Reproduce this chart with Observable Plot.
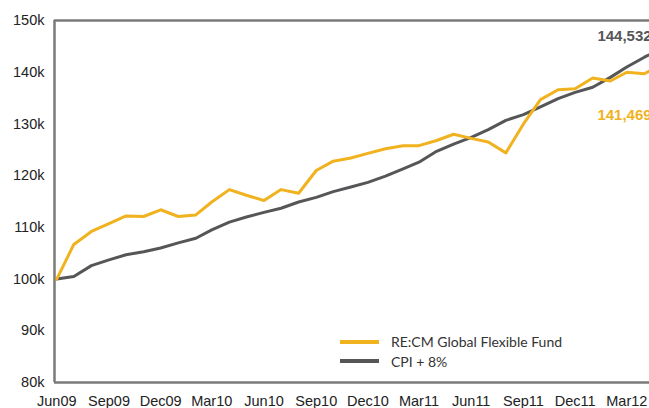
<!DOCTYPE html>
<html>
<head>
<meta charset="utf-8">
<script src="https://cdn.jsdelivr.net/npm/d3@7"></script>
<script src="https://cdn.jsdelivr.net/npm/@observablehq/plot@0.6"></script>
<style>
  html, body { margin: 0; padding: 0; background: #fff; overflow: hidden; }
  #wrap { position: relative; width: 649px; height: 408px; overflow: hidden; }
  #legend { position: absolute; left: 340px; top: 332px; font-family: Lato, "Open Sans", sans-serif; font-size: 14px; color: #333; }
  .row { display: flex; align-items: center; height: 19.5px; }
  .sw { width: 39px; height: 4px; margin-right: 12px; }
</style>
</head>
<body>
<div id="wrap"><div id="legend"></div></div>
<script>
const months = ["Jun09","Jul09","Aug09","Sep09","Oct09","Nov09","Dec09","Jan10","Feb10","Mar10","Apr10","May10",
  "Jun10","Jul10","Aug10","Sep10","Oct10","Nov10","Dec10","Jan11","Feb11","Mar11","Apr11","May11",
  "Jun11","Jul11","Aug11","Sep11","Oct11","Nov11","Dec11","Jan12","Feb12","Mar12","Apr12","May12"];
const fund = [100.0,106.7,109.2,110.7,112.2,112.1,113.4,112.1,112.4,114.9,117.3,116.2,
  115.2,117.3,116.6,121.0,122.8,123.4,124.3,125.2,125.8,125.8,126.8,128.0,
  127.2,126.5,124.4,130.0,134.7,136.6,136.8,138.9,138.3,140.0,139.7,141.469];
const cpi = [100.0,100.5,102.6,103.7,104.7,105.3,106.0,107.0,107.9,109.5,111.0,112.0,
  112.9,113.7,114.9,115.8,116.9,117.8,118.7,119.9,121.3,122.6,124.7,126.1,
  127.4,128.9,130.7,131.8,133.3,134.9,136.1,137.1,139.0,141.0,142.9,144.532];
const seriesNames = ["RE:CM Global Flexible Fund", "CPI + 8%"];
const seriesColors = ["#F0B21E", "#555658"];
const xTickLabels = ["Jun09","Sep09","Dec09","Mar10","Jun10","Sep10","Dec10","Mar11","Jun11","Sep11","Dec11","Mar12"];
const yTicks = [80000,90000,100000,110000,120000,130000,140000,150000];
const xDomain = ["2009-05-28", "2012-04-10"];

const parse = d3.utcParse("%b%y");
const fmt = d3.utcFormat("%b%y");
const rows = [];
months.forEach((m, i) => {
  rows.push({date: parse(m), value: fund[i] * 1000, series: seriesNames[0]});
  rows.push({date: parse(m), value: cpi[i] * 1000, series: seriesNames[1]});
});
const fundRows = rows.filter(d => d.series === seriesNames[0]);
const cpiRows = rows.filter(d => d.series === seriesNames[1]);
const lastFund = fundRows[fundRows.length - 1];
const lastCpi = cpiRows[cpiRows.length - 1];
const xd = xDomain.map(s => new Date(s));
const axisFont = "Liberation Sans, Arial, sans-serif";

const chart = Plot.plot({
  width: 649,
  height: 408,
  marginLeft: 54,
  marginRight: 0,
  marginTop: 20,
  marginBottom: 26,
  style: {fontFamily: axisFont, fontSize: "14.5px", color: "#222", background: "transparent", overflow: "hidden"},
  x: {type: "utc", domain: xd, ticks: xTickLabels.map(parse), tickFormat: fmt, tickSize: 0, tickPadding: 13, label: null},
  y: {domain: [yTicks[0], yTicks[yTicks.length - 1]], ticks: yTicks, tickFormat: d => d / 1000 + "k", tickSize: 0, tickPadding: 10, label: null},
  marks: [
    Plot.ruleY([yTicks[0], yTicks[yTicks.length - 1]], {stroke: "#7a7a7a", strokeWidth: 2.5}),
    Plot.ruleX([xd[0]], {stroke: "#7a7a7a", strokeWidth: 2.5}),
    Plot.line(cpiRows, {x: "date", y: "value", stroke: seriesColors[1], strokeWidth: 3}),
    Plot.line(fundRows, {x: "date", y: "value", stroke: seriesColors[0], strokeWidth: 3}),
    Plot.text([lastCpi], {x: "date", y: "value", text: d => d3.format(",")(Math.round(d.value)), fill: seriesColors[1], fontWeight: "bold", fontSize: 15, textAnchor: "start", dx: -64, dy: -13}),
    Plot.text([lastFund], {x: "date", y: "value", text: d => d3.format(",")(Math.round(d.value)), fill: seriesColors[0], fontWeight: "bold", fontSize: 15, textAnchor: "start", dx: -64, dy: 51})
  ]
});
const wrap = document.getElementById("wrap");
wrap.insertBefore(chart, wrap.firstChild);

const legend = document.getElementById("legend");
seriesNames.forEach((n, i) => {
  const r = document.createElement("div");
  r.className = "row";
  const s = document.createElement("div");
  s.className = "sw";
  s.style.background = seriesColors[i];
  const t = document.createElement("span");
  t.textContent = n;
  r.appendChild(s); r.appendChild(t);
  legend.appendChild(r);
});
</script>
</body>
</html>
